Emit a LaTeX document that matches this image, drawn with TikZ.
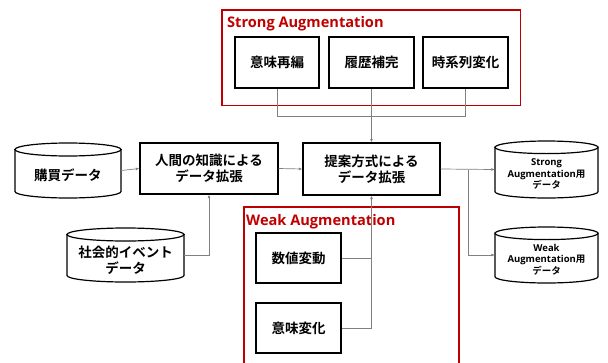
\documentclass[tikz,border=0pt]{standalone}
\usepackage{fontspec}
\usetikzlibrary{arrows.meta}
\setmainfont{Noto Sans CJK JP}[BoldFont={Noto Sans CJK JP Bold}]
\newfontfamily\latinfont{Open Sans}[BoldFont={Open Sans Bold}]
\definecolor{augred}{HTML}{C00000}
\definecolor{conngray}{HTML}{808080}
\tikzset{
  procbox/.style={draw=black, line width=1.3pt, fill=white, inner sep=0pt, align=center,
    font=\bfseries\fontsize{13.5}{16}\selectfont},
  redframe/.style={draw=augred, line width=1.5pt},
  grouplabel/.style={text=augred, anchor=base west, inner sep=0pt, font=\latinfont\bfseries\fontsize{14.6}{16}\selectfont},
  cylline/.style={draw=black, line width=1.2pt, fill=white},
  conn/.style={draw=conngray, line width=0.7pt},
  arr/.style={-{Latex[length=3.5pt,width=3pt]}},
  cyltext/.style={align=center, inner sep=0pt, font=\bfseries\fontsize{13.5}{16}\selectfont},
  smallcyltext/.style={align=center, inner sep=0pt, font=\bfseries\fontsize{9.5}{11.5}\selectfont},
}
% name, left, top, right, bottom, ry, text, textstyle
\newcommand\mycyl[8]{%
  \pgfmathsetmacro\cx{(#2+#4)/2}%
  \pgfmathsetmacro\rx{(#4-#2)/2}%
  \pgfmathsetmacro\ty{#3+#6}%
  \pgfmathsetmacro\by{#5-#6}%
  \pgfmathsetmacro\kx{0.5523*\rx}%
  \pgfmathsetmacro\ky{0.5523*#6}%
  \pgfmathsetmacro\cy{(#3+#5)/2}%
  \pgfmathsetmacro\tcy{(#3+1.5*#6+#5)/2}%
  \pgfmathsetmacro\ww{#4-#2}%
  \pgfmathsetmacro\hh{#5-#3}%
  \draw[cylline] (#2,\ty) -- (#2,\by) .. controls (#2,\by+\ky) and (\cx-\kx,#5) .. (\cx,#5)
     .. controls (\cx+\kx,#5) and (#4,\by+\ky) .. (#4,\by) -- (#4,\ty) -- cycle;
  \draw[cylline] (\cx,\ty) ellipse [x radius=\rx, y radius=#6];
  \node[inner sep=0pt, minimum width=\ww pt, minimum height=\hh pt] (#1) at (\cx,\cy) {};
  \node[#8] (#1-t) at (\cx,\tcy) {#7};
}
\begin{document}
\begin{tikzpicture}[x=1pt,y=-1pt]
\useasboundingbox (0,0) rectangle (608,362);
\clip (0,0) rectangle (608,362);

% Strong Augmentation group
\draw[redframe] (222,10) rectangle (520.5,105.5);
\node[grouplabel] (slabel) at (227,27) {Strong Augmentation};
\node[procbox, minimum width=84pt, minimum height=51pt] (s1) at (277,62.5) {意味再編};
\node[procbox, minimum width=85pt, minimum height=51pt] (s2) at (371.5,62.5) {履歴補完};
\node[procbox, minimum width=85pt, minimum height=51pt] (s3) at (465.5,62.5) {時系列変化};

% Weak Augmentation group
\draw[redframe] (244,207) rectangle (459,370);
\node[grouplabel] (wlabel) at (246,225) {Weak Augmentation};
\node[procbox, minimum width=85pt, minimum height=50pt] (w1) at (298.5,258) {数値変動};
\node[procbox, minimum width=85pt, minimum height=50pt] (w2) at (298.5,328) {意味変化};

% main boxes
\node[procbox, minimum width=138pt, minimum height=51pt] (h) at (209,168.5) {人間の知識による\\データ拡張};
\node[procbox, minimum width=137pt, minimum height=52pt] (p) at (371.5,169) {提案方式による\\データ拡張};

% cylinders
\mycyl{buy}{15}{143}{121}{198}{6.5}{購買データ}{cyltext}
\mycyl{ev}{67}{228}{184}{282}{6.5}{社会的イベント\\データ}{cyltext}
\mycyl{sc}{495}{141}{598}{198}{6.3}{{\latinfont Strong}\\{\latinfont Augmentation}用\\データ}{smallcyltext}
\mycyl{wc}{495}{227}{598}{283}{6.3}{{\latinfont Weak}\\{\latinfont Augmentation}用\\データ}{smallcyltext}

% connectors
\coordinate (sj) at (371.5,116);
\draw[conn] (s1.south) |- (sj);
\draw[conn] (s3.south) |- (sj);
\draw[conn] (s2.south) -- (sj);
\draw[conn, arr] (sj) -- (p.north);

\coordinate (wj) at (371.5,258);
\draw[conn] (w1.east) -- (wj);
\draw[conn] (w2.east) -| (wj);
\draw[conn, arr] (wj) -- (p.south);

\draw[conn, arr] (buy.east) -- (h.west);
\draw[conn, arr] (ev.east) -| (h.south);
\draw[conn, arr] (h.east) -- (p.west);

\coordinate (oj) at (468,169.5);
\draw[conn, arr] (p.east) -- (sc.west);
\draw[conn, arr] (oj) |- (wc.west);
\end{tikzpicture}
\end{document}
